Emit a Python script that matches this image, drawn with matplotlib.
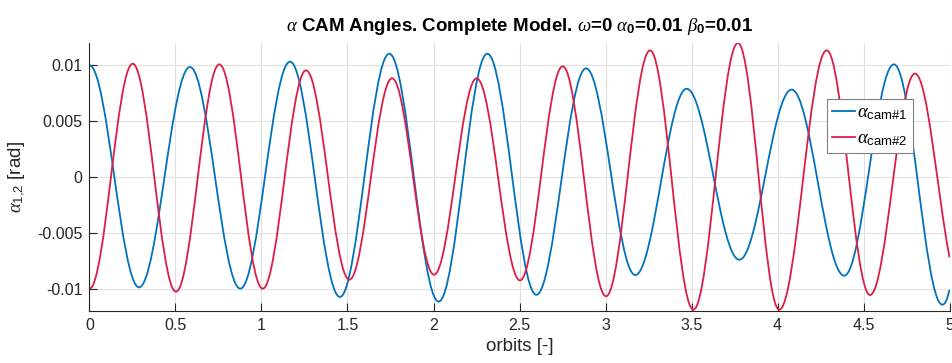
import matplotlib
matplotlib.use('Agg')
import matplotlib.pyplot as plt
from matplotlib.path import Path
from matplotlib.patches import PathPatch
from matplotlib.lines import Line2D

plt.rcParams['font.family'] = ['Liberation Sans', 'DejaVu Sans']
plt.rcParams['mathtext.fontset'] = 'custom'
plt.rcParams['mathtext.rm'] = 'Liberation Sans'
plt.rcParams['mathtext.it'] = 'Liberation Serif:italic'
plt.rcParams['mathtext.bf'] = 'Liberation Sans:bold'

# turning points of each camera angle: orbit, angle [rad], slope [rad/orbit]
cam1_orbit = [0.000, 0.288, 0.584, 0.877, 1.166, 1.456, 1.743, 2.030, 2.313,
              2.598, 2.887, 3.173, 3.472, 3.778, 4.082, 4.388, 4.677, 4.958, 5.000]
cam1_angle = [0.01000, -0.00988, 0.00985, -0.01000, 0.01033, -0.01074, 0.01104,
              -0.01116, 0.01104, -0.01055, 0.00973, -0.00878, 0.00790, -0.00741,
              0.00783, -0.00884, 0.01009, -0.01143, -0.01010]
cam1_slope = [0] * 18 + [0.066]

cam2_orbit = [0.000, 0.251, 0.503, 0.755, 1.007, 1.259, 1.511, 1.759, 2.003,
              2.251, 2.503, 2.751, 3.003, 3.259, 3.511, 3.770, 4.010, 4.286,
              4.538, 4.799, 5.000]
cam2_angle = [-0.01000, 0.01015, -0.01027, 0.01009, -0.01000, 0.00955, -0.00920,
              0.00884, -0.00875, 0.00884, -0.00926, 0.00991, -0.01068, 0.01134,
              -0.01188, 0.01200, -0.01188, 0.01134, -0.01057, 0.00926, -0.00720]
cam2_slope = [0] * 20 + [-0.080]

labels = [r'$\alpha_{\mathrm{cam\#1}}$', r'$\alpha_{\mathrm{cam\#2}}$']
colors = ['#0072BD', '#DC1E46']

x_ticks = [0, 0.5, 1, 1.5, 2, 2.5, 3, 3.5, 4, 4.5, 5]
x_tick_labels = ['0', '0.5', '1', '1.5', '2', '2.5', '3', '3.5', '4', '4.5', '5']
y_ticks = [-0.01, -0.005, 0, 0.005, 0.01]
y_tick_labels = ['-0.01', '-0.005', '0', '0.005', '0.01']


def smooth_path(t, v, dv, k=0.3634):
    # cubic Bezier pieces between turning points (Hermite tangents)
    verts = [(t[0], v[0])]
    codes = [Path.MOVETO]
    for i in range(len(t) - 1):
        h = k * (t[i + 1] - t[i])
        verts += [(t[i] + h, v[i] + dv[i] * h),
                  (t[i + 1] - h, v[i + 1] - dv[i + 1] * h),
                  (t[i + 1], v[i + 1])]
        codes += [Path.CURVE4] * 3
    return Path(verts, codes)


ink = '#262626'
fig = plt.figure(figsize=(9.52, 3.63), dpi=100)
ax = fig.add_axes([0.094, 0.1433, 0.9034, 0.7382])

series = [(cam1_orbit, cam1_angle, cam1_slope), (cam2_orbit, cam2_angle, cam2_slope)]
for (t, v, dv), c in zip(series, colors):
    ax.add_patch(PathPatch(smooth_path(t, v, dv), fill=False, edgecolor=c, lw=1.3))

ax.set_xlim(0, 5)
ax.set_ylim(-0.012, 0.012)
ax.set_xticks(x_ticks)
ax.set_xticklabels(x_tick_labels)
ax.set_yticks(y_ticks)
ax.set_yticklabels(y_tick_labels)
ax.tick_params(direction='in', length=5.5, width=0.8, colors=ink,
               labelsize=11.5, pad=5)
ax.grid(True, color='#e0e0e0', lw=0.8)
ax.set_axisbelow(True)
for side in ['top', 'right']:
    ax.spines[side].set_visible(False)
for side in ['left', 'bottom']:
    ax.spines[side].set_color(ink)
    ax.spines[side].set_linewidth(0.8)

ax.set_xlabel('orbits [-]', fontsize=13.5, color=ink, labelpad=4)
ax.set_ylabel(r'$\alpha_{1{,}2}$ [rad]', fontsize=13.5, color=ink, labelpad=7)
ax.set_title(r'$\alpha$ CAM Angles. Complete Model. $\omega$=0 '
             r'$\alpha_\mathbf{0}$=0.01 $\beta_\mathbf{0}$=0.01',
             fontsize=13.5, fontweight='bold', color='black', pad=9)

handles = [Line2D([], [], color=c, lw=1.3) for c in colors]
leg = ax.legend(handles, labels, loc='upper left', bbox_to_anchor=(0.858, 0.79),
                borderaxespad=0, fancybox=False, framealpha=1, edgecolor='#808080',
                fontsize=13.5, handlelength=1.2, handletextpad=0.15,
                borderpad=0.25, labelspacing=0.45)
leg.get_frame().set_linewidth(0.8)

fig.savefig('out.png', dpi=100)
